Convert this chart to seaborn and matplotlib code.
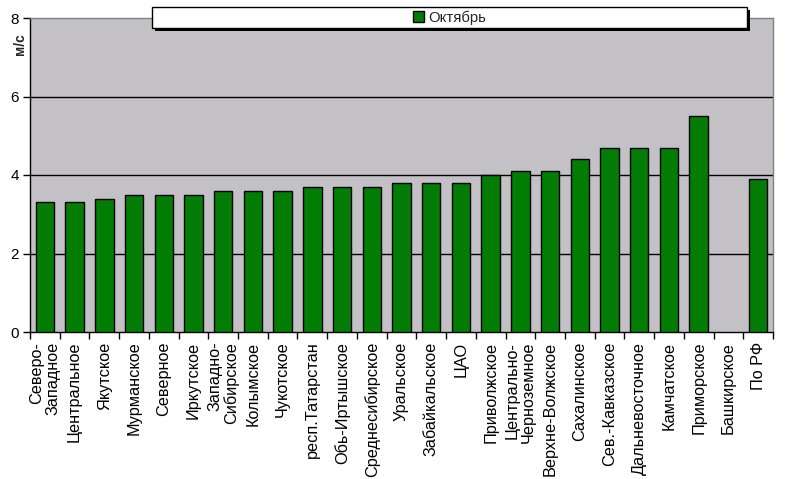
import numpy as np
import pandas as pd
import matplotlib
matplotlib.use("Agg")
import matplotlib.pyplot as plt
from matplotlib.patches import Rectangle, Patch
from matplotlib.ticker import FixedLocator
import seaborn as sns

categories = ["Северо-\nЗападное", "Центральное", "Якутское", "Мурманское", "Северное",
              "Иркутское", "Западно-\nСибирское", "Колымское", "Чукотское", "респ.Татарстан",
              "Обь-Иртышское", "Среднесибирское", "Уральское", "Забайкальское", "ЦАО",
              "Приволжское", "Центрально-\nЧерноземное", "Верхне-Волжское", "Сахалинское",
              "Сев.-Кавказское", "Дальневосточное", "Камчатское", "Приморское", "Башкирское", "По РФ"]
october = [3.3, 3.3, 3.4, 3.5, 3.5, 3.5, 3.6, 3.6, 3.6, 3.7, 3.7, 3.7, 3.8, 3.8, 3.8,
           4.0, 4.1, 4.1, 4.4, 4.7, 4.7, 4.7, 5.5, np.nan, 3.9]
series_name = "Октябрь"
y_ticks = [0, 2, 4, 6, 8]
y_label = "м/с"

sns.set_theme(style="white")
plt.rcParams['font.family'] = ['Liberation Sans', 'DejaVu Sans']

df = pd.DataFrame({"region": categories, "value": october})

fig = plt.figure(figsize=(8.0, 4.79), dpi=100)
ax = fig.add_axes([30/800, 1-332/479, (773-30)/800, (332-18)/479])
ax.set_facecolor("#C3C1C5")

sns.barplot(data=df, x="region", y="value", order=categories, color="#037D06",
            saturation=1, width=0.62, edgecolor="black", linewidth=1, ax=ax, zorder=3)

ax.set_xlim(-0.5, len(categories) - 0.5)
ax.set_ylim(0, 8)
ax.set_yticks(y_ticks)
ax.set_yticklabels([str(t) for t in y_ticks], fontsize=11, color="black")
for t in y_ticks[1:-1]:
    ax.axhline(t, color="black", linewidth=1, zorder=1)

ax.set_xticks(range(len(categories)))
ax.set_xticklabels(categories, rotation=90, fontsize=11.7, color="black",
                   ha="center", va="top", multialignment="right", linespacing=1.1)
ax.xaxis.set_minor_locator(FixedLocator(np.arange(-0.5, len(categories), 1.0)))
ax.tick_params(axis="x", which="major", length=0, pad=7)
ax.tick_params(axis="x", which="minor", length=5, width=1, color="black", direction="out", bottom=True)
ax.tick_params(axis="y", which="major", length=5, width=1, color="black", direction="out", left=True, pad=3)
ax.set_xlabel("")
ax.set_ylabel("")

for s in ["left", "bottom"]:
    ax.spines[s].set_color("black")
    ax.spines[s].set_linewidth(1)
for s in ["top", "right"]:
    ax.spines[s].set_color("#808080")
    ax.spines[s].set_linewidth(1)

fig.text(20/800, 1-44/479, y_label, rotation=90, fontsize=10, fontweight="bold",
         ha="center", va="center")

# legend box with shadow
bx0, by0, bw, bh = 152/800, 1-28/479, (747-152)/800, (28-7)/479
fig.patches.append(Rectangle((bx0 + 3/800, by0 - 3/479), bw, bh, transform=fig.transFigure,
                             facecolor="black", edgecolor="none", zorder=10))
fig.patches.append(Rectangle((bx0, by0), bw, bh, transform=fig.transFigure,
                             facecolor="white", edgecolor="black", linewidth=1, zorder=11))
handle = Patch(facecolor="#037D06", edgecolor="black", linewidth=1)
leg = fig.legend([handle], [series_name], loc="center",
                 bbox_to_anchor=(bx0 + bw/2, by0 + bh/2), frameon=False, fontsize=10.7,
                 handlelength=0.7, handleheight=0.7, handletextpad=0.3, borderpad=0)
leg.set_zorder(12)

fig.savefig("out.png", dpi=100, facecolor="white")
